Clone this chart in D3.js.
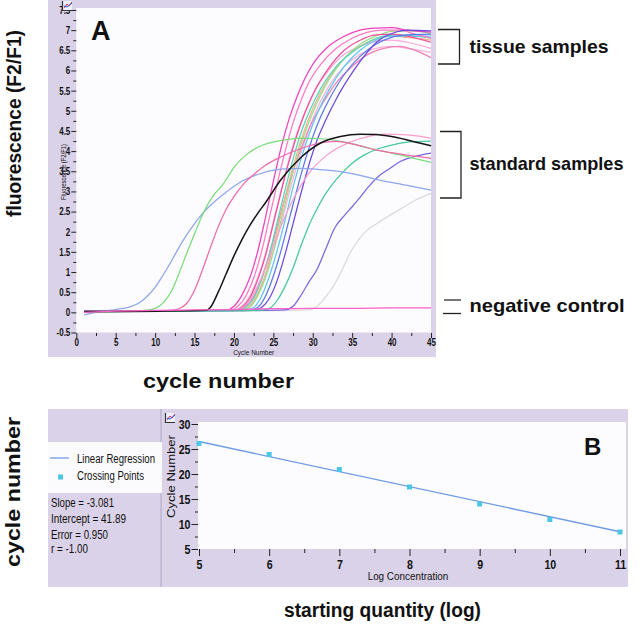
<!DOCTYPE html>
<html><head><meta charset="utf-8">
<script src="https://cdn.jsdelivr.net/npm/d3@7/dist/d3.min.js"></script>
<style>body{margin:0;background:#fff}svg{display:block}</style>
</head><body>
<svg id="c" width="640" height="629"></svg>
<script>
// ---------- Panel A data: [cycle, fluorescence] ----------
const negControl = [[1,0.0],[5,0.03],[10,0.05],[15,0.06],[20,0.07],[25,0.09],[30,0.1],[35,0.1],[40,0.11],[45,0.11]];
const stdBlue   = [[1,-0.06],[2,-0.02],[3,0.02],[5,0.07],[7,0.15],[8,0.24],[9,0.4],[10,0.62],[11,0.92],[12,1.25],[13,1.6],[14,1.92],[15,2.2],[16,2.45],[17,2.65],[19,2.98],[21,3.25],[23,3.42],[26,3.55],[28.4,3.57],[31,3.54],[33.5,3.49],[36,3.4],[38.5,3.28],[42,3.15],[45,3.03]];
const stdGreen  = [[1,0.0],[5,0.02],[8,0.04],[9.5,0.07],[10.5,0.15],[11.2,0.28],[12,0.5],[13,0.95],[14,1.46],[15,1.95],[16.1,2.46],[17.4,2.9],[18.7,3.2],[20.1,3.62],[21.5,3.9],[23.1,4.1],[26.5,4.28],[28.4,4.32],[31.6,4.3],[34,4.22],[37.3,4.07],[40,3.95],[42.5,3.84],[45,3.72]];
const stdPink   = [[1,0.02],[8,0.03],[12,0.05],[13,0.09],[14,0.22],[15,0.55],[16,1.05],[17,1.6],[18,2.12],[19,2.55],[20.1,2.9],[21.3,3.2],[22.7,3.45],[24,3.65],[26,3.86],[28.6,4.07],[31.6,4.22],[33,4.24],[35,4.18],[38,4.03],[41,3.93],[45,3.82]];
const stdBlack  = [[1,0.02],[10,0.03],[16.5,0.05],[17,0.12],[18,0.5],[19,0.95],[20,1.4],[21,1.8],[22,2.15],[23,2.45],[24,2.72],[26,3.3],[28.6,3.86],[31,4.2],[33.5,4.36],[36,4.42],[38,4.41],[40,4.36],[42.5,4.25],[45,4.13]];
const stdTeal   = [[1,0.02],[15,0.03],[23,0.05],[24.5,0.1],[25.5,0.3],[26.5,0.65],[27.5,1.1],[28.5,1.65],[29.5,2.15],[30.5,2.55],[31.5,2.9],[32.5,3.18],[33.5,3.41],[35,3.7],[36.5,3.9],[38.5,4.07],[40,4.15],[42.3,4.23],[45,4.25]];
const stdPurple = [[1,0.02],[20,0.04],[26.5,0.06],[27.5,0.15],[28.4,0.39],[29.5,0.75],[30.5,1.05],[31.6,1.55],[32.8,2.1],[34,2.4],[35,2.62],[36,2.85],[37,3.1],[38.5,3.4],[40,3.6],[41.1,3.74],[43,3.87],[45,3.95]];
const stdGrey   = [[1,0.02],[25,0.04],[29.5,0.06],[30.5,0.14],[31.5,0.35],[32.6,0.64],[33.6,1.0],[34.7,1.46],[35.8,1.8],[36.9,2.04],[38.1,2.2],[41,2.55],[43,2.78],[45,2.95]];

const tissue1  = [[1,0.02],[15,0.03],[19,0.05],[20,0.15],[21,0.42],[22,0.85],[23,1.5],[24,2.35],[25,3.25],[26,4.1],[27,4.8],[28,5.35],[29,5.8],[30,6.15],[32,6.6],[34,6.85],[36,7.0],[38,7.05],[40,7.06],[42,7.0],[45,6.95]];
const tissue2  = [[1,0.02],[19.5,0.05],[20.5,0.15],[21.5,0.4],[22.5,0.85],[23.5,1.5],[24.5,2.35],[25.5,3.2],[26.5,4.0],[27.5,4.7],[28.5,5.25],[29.5,5.7],[31,6.15],[33,6.55],[35,6.8],[37,6.95],[39,7.0],[41,7.0],[43,6.9],[45,6.8]];
const tissue3  = [[1,0.03],[20,0.05],[21,0.15],[22,0.4],[23,0.85],[24,1.45],[25,2.25],[26,3.05],[27,3.8],[28,4.45],[29,4.95],[30,5.4],[32,6.0],[34,6.4],[36,6.6],[38,6.72],[40,6.75],[42,6.7],[45,6.55]];
const tissue4  = [[1,0.02],[20,0.05],[21,0.12],[22,0.35],[23,0.8],[24,1.4],[25,2.2],[26,3.0],[27,3.75],[28,4.4],[29,4.95],[30,5.4],[32,6.05],[34,6.5],[36,6.75],[38,6.88],[40,6.9],[42,6.85],[45,6.7]];
const tissue5  = [[1,0.03],[20.5,0.05],[21.5,0.12],[22.5,0.35],[23.5,0.8],[24.5,1.45],[25.5,2.25],[26.5,3.05],[27.5,3.8],[28.5,4.45],[29.5,4.95],[31,5.55],[33,6.1],[35,6.45],[37,6.7],[39,6.85],[41,6.88],[43,6.85],[45,6.8]];
const tissue6  = [[1,0.03],[21,0.05],[22,0.15],[23,0.45],[24,0.95],[25,1.65],[26,2.45],[27,3.25],[28,3.95],[29,4.55],[30,5.05],[32,5.8],[34,6.3],[36,6.6],[38,6.78],[40,6.85],[42,6.82],[45,6.75]];
const tissue7  = [[1,0.03],[21,0.05],[22,0.12],[23,0.4],[24,0.85],[25,1.5],[26,2.3],[27,3.1],[28,3.85],[29,4.45],[30,4.95],[32,5.75],[34,6.3],[36,6.65],[38,6.85],[40,6.97],[42,6.98],[45,6.92]];
const tissue8  = [[1,0.03],[21.5,0.05],[22.5,0.12],[23.5,0.4],[24.5,0.9],[25.5,1.55],[26.5,2.3],[27.5,3.1],[28.5,3.8],[29.5,4.4],[30.5,4.9],[32,5.5],[34,6.1],[36,6.5],[38,6.75],[40,6.85],[42,6.85],[45,6.85]];
const tissue9  = [[1,0.03],[22,0.05],[23,0.12],[24,0.4],[25,0.9],[26,1.55],[27,2.3],[28,3.05],[29,3.75],[30,4.35],[31,4.85],[32,5.25],[34,5.9],[36,6.35],[38,6.65],[40,6.82],[42,6.88],[45,6.9]];
const tissue10 = [[1,0.03],[22.5,0.05],[23.5,0.12],[24.5,0.35],[25.5,0.8],[26.5,1.45],[27.5,2.2],[28.5,2.95],[29.5,3.65],[30.6,4.3],[31.6,4.75],[33,5.3],[35.2,6.0],[36.5,6.35],[38.1,6.7],[40.7,6.96],[42,7.0],[45,6.98]];
const tissue11 = [[1,0.03],[20.5,0.05],[21.5,0.15],[22.5,0.4],[23.5,0.85],[24.5,1.45],[25.5,2.15],[26.5,2.85],[27.5,3.5],[28.5,4.05],[29.5,4.55],[31,5.1],[33,5.7],[35,6.1],[37,6.4],[39,6.55],[41,6.6],[43,6.5],[45,6.32]];
const tissue12 = [[1,0.03],[21,0.05],[22,0.15],[23,0.45],[24,0.9],[25,1.5],[26,2.2],[27,2.95],[28,3.65],[29,4.25],[30,4.8],[32,5.6],[34,6.1],[36,6.4],[38,6.55],[40,6.6],[42,6.55],[45,6.45]];
const tissue13 = [[1,0.03],[20,0.05],[21,0.1],[22,0.3],[23,0.65],[24,1.1],[25,1.65],[26,2.15],[27,2.6],[28,2.98],[29.7,3.5],[31.8,3.9],[34.8,4.23],[37,4.36],[39,4.42],[42,4.4],[45,4.32]];

const seriesA = [
  {d: tissue3,  c: "#f7a8d8"}, {d: tissue12, c: "#f6b4dc"}, {d: tissue11, c: "#f080b8"},
  {d: tissue6,  c: "#f4b08c"}, {d: tissue7,  c: "#9ade8a"}, {d: tissue5,  c: "#56d6b6"},
  {d: tissue8,  c: "#60c4ee"}, {d: tissue4,  c: "#f0509a"}, {d: tissue2,  c: "#ff78c4"},
  {d: tissue1,  c: "#f040c0"}, {d: tissue9,  c: "#5a78e8"}, {d: tissue10, c: "#6a48e0"},
  {d: tissue13, c: "#f7a0d0"},
  {d: stdGrey, c: "#dadada"}, {d: stdPurple, c: "#7a66e0"}, {d: stdTeal, c: "#46c8a0"},
  {d: stdBlue, c: "#8ea6ec"}, {d: stdGreen, c: "#78dc78"}, {d: stdPink, c: "#f06aa8"},
  {d: stdBlack, c: "#151515"}, {d: negControl, c: "#ff5fc8"}
];
const yTicksA = [-0.5,0,0.5,1,1.5,2,2.5,3,3.5,4,4.5,5,5.5,6,6.5,7,7.5];
const xTicksA = [0,5,10,15,20,25,30,35,40,45];

// ---------- Panel B data ----------
const logConc = [5,6,7,8,9,10,11];
const crossingPoints = [26.1,23.9,20.9,17.4,14.0,10.9,8.4];
const regLine = [[5,26.5],[11,8.45]];
const statsText = ["Slope = -3.081","Intercept = 41.89","Error = 0.950","r = -1.00"];
const legendB = ["Linear Regression","Crossing Points"];
const yTicksB = [5,10,15,20,25,30];
const xTicksB = [5,6,7,8,9,10,11];

const svg = d3.select("#c");
const SANS = "'Liberation Sans',Arial,Helvetica,sans-serif";
const FRAME = "#dad2e8";

function squeeze(sel, f){
  sel.each(function(){ const w=this.getComputedTextLength();
    d3.select(this).attr("textLength", (w*f).toFixed(2)).attr("lengthAdjust","spacingAndGlyphs"); });
}
function fit(sel, w){ sel.attr("textLength", w).attr("lengthAdjust","spacingAndGlyphs"); return sel; }
function txt(x,y,s,size,weight,anchor){
  return svg.append("text").attr("x",x).attr("y",y).attr("text-anchor",anchor||"start")
    .style("font-family",SANS).style("font-size",size+"px").style("font-weight",weight||"normal")
    .attr("fill","#111").text(s);
}

// ================= PANEL A =================
svg.append("rect").attr("x",48).attr("y",0).attr("width",388).attr("height",357).attr("fill",FRAME);
const xA = d3.scaleLinear().domain([0,45]).range([76.3,431]);
const yA = d3.scaleLinear().domain([-0.5,7.5]).range([332.5,10]);
svg.append("rect").attr("x",76.3).attr("y",8).attr("width",431-76.3).attr("height",332.5-8).attr("fill","#fcfcfe");

const gA = svg.append("g");
const lineA = d3.line().x(d=>xA(d[0])).y(d=>yA(d[1])).curve(d3.curveMonotoneX);
seriesA.forEach(s=>{
  gA.append("path").attr("d",lineA(s.d)).attr("fill","none").attr("stroke",s.c)
    .attr("stroke-width", s.c==="#151515"?1.5:1.25).attr("stroke-linejoin","round");
});

function styleAxis(g, size, f){
  g.select(".domain").remove();
  g.selectAll(".tick line").attr("stroke","#222").attr("stroke-width",1);
  const t = g.selectAll(".tick text").attr("fill","#111").style("font-family",SANS)
    .style("font-size",size+"px").style("font-weight","bold");
  if (f) squeeze(t, f);
}
const yAxA = svg.append("g").attr("transform","translate(76.3,0)")
  .call(d3.axisLeft(yA).tickValues(yTicksA).tickSize(5).tickPadding(1).tickFormat(d=>String(d)));
styleAxis(yAxA,10.5,0.76);
svg.append("g").attr("transform","translate(76.3,0)")
  .call(d3.axisLeft(yA).tickValues(yTicksA.slice(0,-1).map(v=>v+0.25)).tickSize(3).tickFormat(""))
  .call(g=>styleAxis(g,9));
const xAxA = svg.append("g").attr("transform","translate(0,333)")
  .call(d3.axisBottom(xA).tickValues(xTicksA).tickSize(5).tickPadding(0.5)
  .tickFormat(d=>String(d)));
styleAxis(xAxA,10,0.8);
svg.append("g").attr("transform","translate(0,333)")
  .call(d3.axisBottom(xA).tickValues(xTicksA.slice(0,-1).map(v=>v+2.5)).tickSize(3).tickFormat(""))
  .call(g=>styleAxis(g,9));

fit(txt(253.7,355.3,"Cycle Number",8,"normal","middle"), 41);
fit(svg.append("text").attr("transform","translate(66,172) rotate(-90)").attr("text-anchor","middle")
  .style("font-family",SANS).style("font-size","6.8px").attr("fill","#111").text("Fluorescence (F2/F1)"), 56);
txt(91,40,"A",27,"bold");

function icon(x,y){
  const g = svg.append("g").attr("transform",`translate(${x},${y})`);
  g.append("rect").attr("x",0).attr("y",0).attr("width",10).attr("height",9).attr("fill","#eef0ff");
  g.append("path").attr("d","M0.5,0V9.5H10").attr("stroke","#333").attr("fill","none").attr("stroke-width",1.2);
  g.append("path").attr("d","M2,7L5,3L7,5L10,1").attr("stroke","#e03040").attr("fill","none").attr("stroke-width",1);
  g.append("path").attr("d","M2,5L5,6L10,2").attr("stroke","#3050e0").attr("fill","none").attr("stroke-width",1);
}
icon(62,1);

// right annotations
const ann = svg.append("g").attr("stroke","#222").attr("fill","none").attr("stroke-width",1.3);
ann.append("path").attr("d","M438,29.5H459.5V64H438");
ann.append("path").attr("d","M440,131.5H461V198H440");
ann.append("path").attr("d","M444,300H461").attr("stroke","#777").attr("stroke-width",2);
ann.append("path").attr("d","M443,313.5H461");
fit(txt(469.5,53,"tissue samples",19,"bold"), 139);
fit(txt(469.5,170,"standard samples",19,"bold"), 154);
fit(txt(469.5,312,"negative control",19,"bold"), 155);

// big outer labels
fit(svg.append("text").attr("transform","translate(21,123.5) rotate(-90)").attr("text-anchor","middle")
  .style("font-family",SANS).style("font-weight","bold").style("font-size","20px").attr("fill","#111")
  .text("fluorescence (F2/F1)"), 187);
fit(txt(218.5,388,"cycle number",20,"bold","middle"), 151);
fit(svg.append("text").attr("transform","translate(20,492) rotate(-90)").attr("text-anchor","middle")
  .style("font-family",SANS).style("font-weight","bold").style("font-size","20px").attr("fill","#111")
  .text("cycle number"), 150);
fit(txt(382.5,617,"starting quantity (log)",20,"bold","middle"), 197);

// ================= PANEL B =================
svg.append("rect").attr("x",48).attr("y",409).attr("width",580).attr("height",178).attr("fill",FRAME);
svg.append("line").attr("x1",161).attr("x2",161).attr("y1",409).attr("y2",587).attr("stroke","#c4bcd6").attr("stroke-width",2);
svg.append("rect").attr("x",48).attr("y",442).attr("width",114).attr("height",51).attr("fill","#fbfbfd");
svg.append("line").attr("x1",50).attr("x2",69).attr("y1",458).attr("y2",458).attr("stroke","#6f9be6").attr("stroke-width",1.3);
svg.append("rect").attr("x",58).attr("y",474.5).attr("width",5).attr("height",5).attr("fill","#4cc6e6");
const legW = [78, 67];
legendB.forEach((t,i)=>fit(txt(77,462.5+i*17.5,t,12.5), legW[i]));
const statW = [63, 75, 57, 37];
const statY = [506.5, 522.5, 538.5, 553];
statsText.forEach((t,i)=>fit(txt(51,statY[i],t,13.5), statW[i]));

const xB = d3.scaleLinear().domain([5,11]).range([199,620]);
const yB = d3.scaleLinear().domain([5,30]).range([549,424]);
svg.append("rect").attr("x",198).attr("y",422).attr("width",428).attr("height",127).attr("fill","#fcfcfe");
svg.append("path").attr("d",d3.line().x(d=>xB(d[0])).y(d=>yB(d[1]))(regLine))
  .attr("stroke","#6f9be6").attr("stroke-width",1.3).attr("fill","none");
svg.selectAll(".cp").data(logConc).enter().append("rect")
  .attr("x",(d)=>xB(d)-2.5).attr("y",(d,i)=>yB(crossingPoints[i])-2.5)
  .attr("width",5).attr("height",5).attr("fill","#4cc6e6");

const yAxB = svg.append("g").attr("transform","translate(198,0)")
  .call(d3.axisLeft(yB).tickValues(yTicksB).tickSize(6.5).tickPadding(1).tickFormat(d=>String(d)));
styleAxis(yAxB,12.5,0.85);
svg.append("g").attr("transform","translate(198,0)")
  .call(d3.axisLeft(yB).tickValues(yTicksB.slice(0,-1).map(v=>v+2.5)).tickSize(3).tickFormat(""))
  .call(g=>styleAxis(g,10));
const xAxB = svg.append("g").attr("transform","translate(0,549)")
  .call(d3.axisBottom(xB).tickValues(xTicksB).tickSize(7).tickPadding(4).tickFormat(d=>String(d)));
styleAxis(xAxB,12.5,0.85);
svg.append("g").attr("transform","translate(0,549)")
  .call(d3.axisBottom(xB).tickValues(xTicksB.slice(0,-1).map(v=>v+0.5)).tickSize(4).tickFormat(""))
  .call(g=>styleAxis(g,10));
fit(txt(408,580,"Log Concentration",10,"normal","middle"), 80.7);
fit(svg.append("text").attr("transform","translate(174.5,476.5) rotate(-90)").attr("text-anchor","middle")
  .style("font-family",SANS).style("font-size","10px").attr("fill","#111").text("Cycle Number"), 83);
txt(584,455,"B",24,"bold");
icon(165,413);
</script>
</body></html>
